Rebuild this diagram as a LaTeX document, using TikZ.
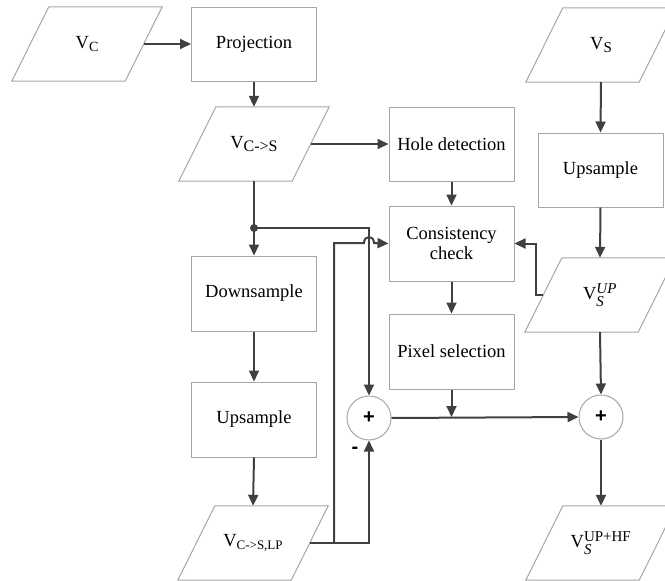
\documentclass[tikz,border=0pt]{standalone}
\usepackage{amsmath}
\usepackage{fontspec}
\setmainfont{Liberation Serif}
\newfontfamily\plusfont{Liberation Sans}
\usetikzlibrary{arrows.meta,calc}
\definecolor{conncol}{HTML}{404040}
\definecolor{boxcol}{HTML}{A6A6A6}
\tikzset{
 box/.style={draw=boxcol, line width=1pt, minimum width=125pt, minimum height=74pt, inner sep=0pt, align=center, font=\fontsize{18.5}{20}\selectfont},
 ptext/.style={minimum width=113pt, minimum height=74pt, inner sep=0pt, font=\fontsize{18.5}{20}\selectfont},
 pbox/.style={draw=boxcol, line width=1pt},
 arr/.style={draw=conncol, line width=2pt, -{Triangle[length=11pt,width=10pt]}},
 sumnode/.style={circle, draw=boxcol, line width=1pt, minimum size=44pt, inner sep=0pt, font=\plusfont\fontsize{20}{22}\selectfont\bfseries}
}
\newcommand\mkpara[3]{%
 \node[ptext] (#1) at (#2) {#3};
 \draw[pbox] ([xshift=18.5pt]#1.north west) -- ([xshift=18.5pt]#1.north east) -- ([xshift=-18.5pt]#1.south east) -- ([xshift=-18.5pt]#1.south west) -- cycle;}
\newcommand\mysub[2]{\raisebox{-3.5pt}{\fontsize{#1}{#1}\selectfont #2}}
\newcommand\scr[1]{\mbox{\fontsize{15}{15}\selectfont #1}}
\begin{document}
\begin{tikzpicture}[x=1pt,y=-1pt]
\useasboundingbox (0,0) rectangle (665,581);
\clip (0,0) rectangle (665,581);
% parallelograms
\mkpara{vc}{87,44}{V\mysub{14}{C}}
\mkpara{vcs}{254,144}{V\mysub{16}{C->S}}
\mkpara{vlp}{253,543}{V\mysub{13}{C->S,LP}}
\mkpara{vs}{601,45}{V\mysub{15}{S}}
\mkpara{vsup}{600,295}{V$^{\scr{\itshape UP}}_{\scr{\itshape S}}$}
\mkpara{vshf}{601,543}{V$^{\scr{UP+HF}}_{\scr{\itshape S}}$}
% boxes
\node[box] (proj) at (254,44) {Projection};
\node[box] (hole) at (451.5,144) {Hole detection};
\node[box, minimum height=75pt] (cons) at (451.5,243.5) {Consistency\\check};
\node[box, minimum height=75pt] (pix) at (451.5,351.5) {Pixel selection};
\node[box, minimum height=75pt] (down) at (254,293.5) {Downsample};
\node[box, minimum height=75pt] (upl) at (254,419.5) {Upsample};
\node[box] (upr) at (600.5,170) {Upsample};
\node[sumnode] (pl) at (369,418) {+};
\node[sumnode] (pr) at (601,417) {+};
\node[font=\plusfont\fontsize{20}{22}\selectfont\bfseries] (minus) at (355,450) {-};
% connectors
\draw[arr] (vc.east) -- (proj.west);
\draw[arr] (proj.south) -- (vcs.north);
\draw[arr] (vcs.east) -- (hole.west);
\draw[arr] (hole.south) -- (cons.north);
\draw[arr] (cons.south) -- (pix.north);
\coordinate (j) at (254,228);
\draw[arr] (vcs.south) -- (down.north);
\fill[conncol] (j) circle (4pt);
\draw[arr] (j) -| (pl.north);
\draw[arr] (down.south) -- (upl.north);
\draw[arr] (upl.south) -- (vlp.north);
\draw[arr] (vlp.east) -| (pl.south);
\coordinate (b) at (334,543);
\coordinate (h1) at (364,243);
\coordinate (h2) at (374,243);
\draw[arr] (b) |- (h1) .. controls (364,235) and (374,235) .. (h2) -- (cons.west);
\draw[arr] (pl.east) -- (pr.west);
\coordinate (pj) at (pix.south |- pr.west);
\draw[arr] (pix.south) -- (pj);
\draw[arr] (vs.south) -- (upr.north);
\draw[arr] (upr.south) -- (vsup.north);
\draw[arr] (vsup.south) -- (pr.north);
\draw[arr] (pr.south) -- (vshf.north);
\draw[arr] (vsup.west) -- ++(-7,0) |- (cons.east);
\end{tikzpicture}
\end{document}
